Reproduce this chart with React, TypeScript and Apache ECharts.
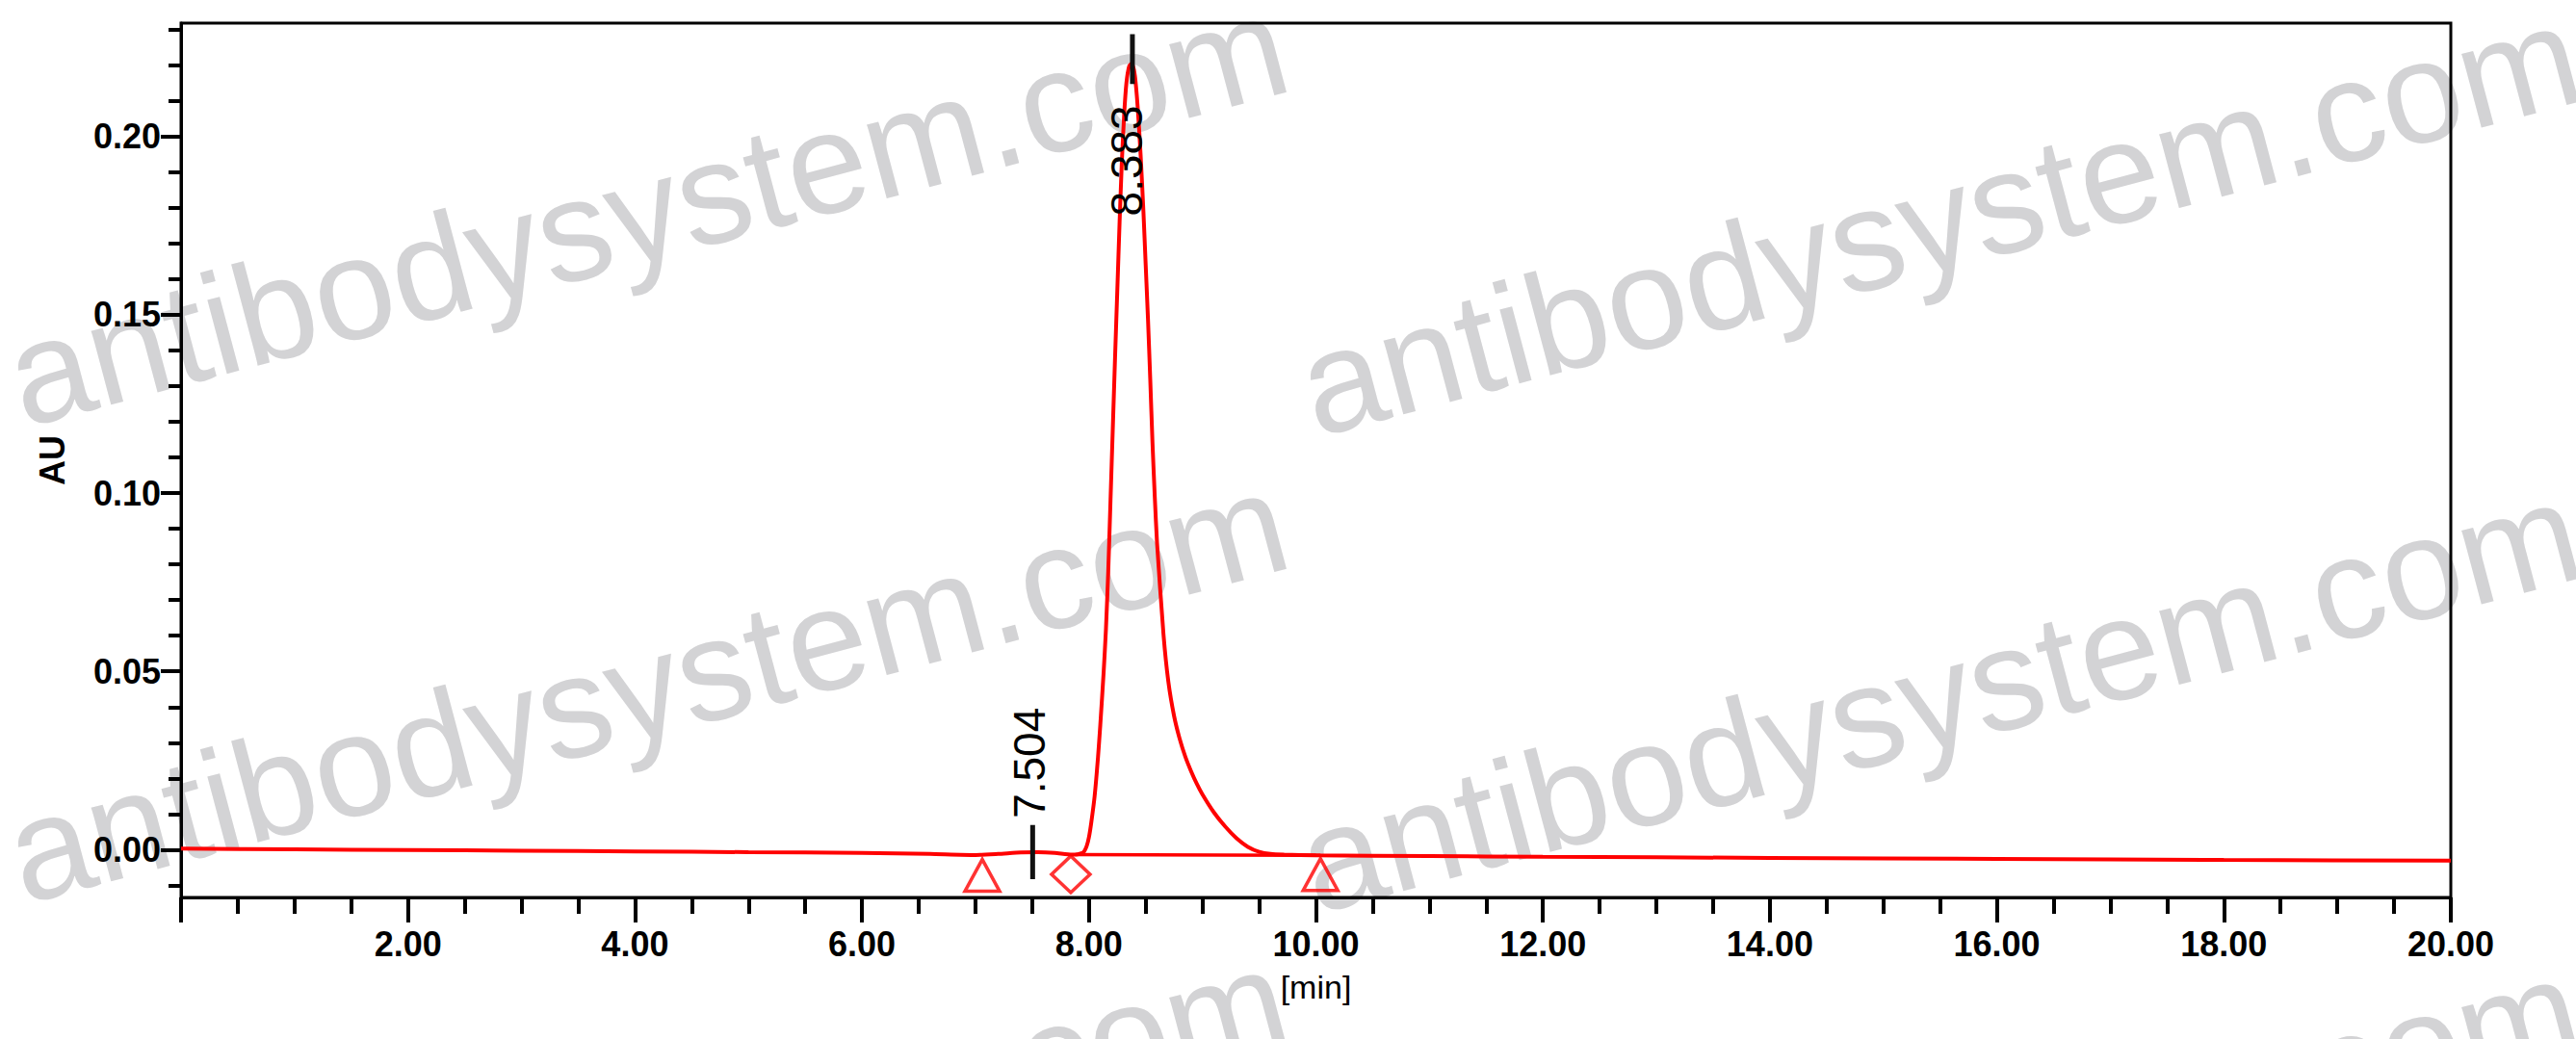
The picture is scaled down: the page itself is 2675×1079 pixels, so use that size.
import React, { useEffect, useRef } from 'react';
import * as echarts from 'echarts';

// ---- chromatogram trace (time in min, absorbance in AU) ----
const timeMin = [
  0, 1, 2, 3, 4, 5, 6, 6.6, 7.0, 7.2, 7.4, 7.55, 7.7, 7.85, 7.9, 7.95, 7.98,
  8.0, 8.02, 8.05, 8.08, 8.1, 8.13, 8.15, 8.17, 8.19, 8.21, 8.23, 8.25, 8.27,
  8.29, 8.31, 8.33, 8.355, 8.38, 8.405, 8.43, 8.455, 8.48, 8.5, 8.52, 8.54,
  8.56, 8.58, 8.6, 8.657, 8.7, 8.75, 8.8, 8.85, 8.9, 8.95, 9.0, 9.1, 9.2, 9.3,
  9.4, 9.5, 9.6, 9.72, 10, 11, 12, 14, 16, 18, 20,
];
const absorbance = [
  0.0003, 0.0001, -0.0001, -0.0003, -0.0005, -0.0007, -0.0009, -0.0012, -0.0015,
  -0.0012, -0.0008, -0.0007, -0.0009, -0.0014, -0.0013, -0.0008, 0.001,
  0.0035, 0.0075, 0.015, 0.026, 0.035, 0.05, 0.062, 0.078, 0.098, 0.118, 0.138,
  0.157, 0.176, 0.193, 0.206, 0.215, 0.2198, 0.2205, 0.217, 0.208, 0.195,
  0.179, 0.164, 0.149, 0.132, 0.114, 0.099, 0.086, 0.0603, 0.047, 0.0375,
  0.031, 0.026, 0.022, 0.0185, 0.0155, 0.0105, 0.0065, 0.0032, 0.0008,
  -0.0006, -0.0012, -0.0014, -0.0016, -0.0018, -0.002, -0.0023, -0.0026, -0.0029, -0.0031,
];

// ---- integration baseline under main peak ----
const baselineTime = [7.88, 10.04];
const baselineAU = [-0.0014, -0.0016];

// ---- integration markers ----
const triangleTime = [7.06, 10.04];
const triangleAU = [-0.0072, -0.007];
const diamondTime = [7.84];
const diamondAU = [-0.0069];

// ---- peak retention-time annotations ----
const peakRT = [7.504, 8.383];
const peakLabels = ['7.504', '8.383'];
const peakTickLow = [-0.0083, 0.2147];
const peakTickHigh = [0.0069, 0.2287];

// ---- axes ----
const xMin = 0;
const xMax = 20;
const xMajorStep = 2;
const yMin = -0.0134;
const yMax = 0.2318;
const yLabelValues = [0, 0.05, 0.1, 0.15, 0.2];
const yMinorValues = [
  -0.01, 0, 0.01, 0.02, 0.03, 0.04, 0.05, 0.06, 0.07, 0.08, 0.09, 0.1, 0.11, 0.12,
  0.13, 0.14, 0.15, 0.16, 0.17, 0.18, 0.19, 0.2, 0.21, 0.22, 0.23,
];

const watermarkText = 'antibodysystem.com';
const watermarkOrigins = [
  [24, 442], [1366, 452],
  [24, 937], [1366, 947],
  [24, 1432], [1366, 1442],
];

const FONT = '"Liberation Sans", Arial, Helvetica, sans-serif';
const RED = '#ff0000';

export default function App() {
  const ref = useRef<HTMLDivElement>(null);

  useEffect(() => {
    if (!ref.current) return;
    const chart = echarts.init(ref.current, null, { renderer: 'svg' });

    const axisLine = { show: true, onZero: false, lineStyle: { color: '#000', width: 3 } };

    const option: any = {
      animation: false,
      backgroundColor: '#ffffff',
      grid: {
        left: 188, right: 130, top: 24, bottom: 147,
        show: true, borderColor: '#000', borderWidth: 3, backgroundColor: 'transparent',
      },
      xAxis: [
        {
          type: 'value', min: xMin, max: xMax, interval: xMajorStep, position: 'bottom',
          name: '[min]', nameLocation: 'middle', nameGap: 76,
          nameTextStyle: { fontSize: 34, fontFamily: FONT, color: '#000' },
          axisLine,
          axisTick: { show: true, length: 26, lineStyle: { color: '#000', width: 4 } },
          minorTick: { show: true, splitNumber: 4, length: 17, lineStyle: { color: '#000', width: 4 } },
          axisLabel: {
            margin: 30, fontSize: 36, fontWeight: 'bold', color: '#000', fontFamily: FONT,
            formatter: (v: number) => (v === 0 ? '' : v.toFixed(2)),
          },
          splitLine: { show: false },
          minorSplitLine: { show: false },
        },
      ],
      yAxis: [
        {
          type: 'value', min: yMin, max: yMax, position: 'left',
          name: 'AU', nameLocation: 'middle', nameGap: 116, nameRotate: 90,
          nameTextStyle: { fontSize: 36, fontWeight: 'bold', fontFamily: FONT, color: '#000' },
          axisLine,
          axisTick: { show: true, length: 21, customValues: yLabelValues, lineStyle: { color: '#000', width: 4 } },
          axisLabel: {
            margin: 21, fontSize: 36, fontWeight: 'bold', color: '#000', fontFamily: FONT,
            customValues: yLabelValues,
            formatter: (v: number) => v.toFixed(2),
          },
          splitLine: { show: false },
        },
        {
          type: 'value', min: yMin, max: yMax, position: 'left',
          axisLine: { show: false, onZero: false },
          axisTick: { show: true, length: 13, customValues: yMinorValues, lineStyle: { color: '#000', width: 4 } },
          axisLabel: { show: false },
          splitLine: { show: false },
        },
      ],
      series: [
        {
          type: 'line', name: 'chromatogram', xAxisIndex: 0, yAxisIndex: 0,
          data: timeMin.map((t, i) => [t, absorbance[i]]),
          showSymbol: false, smooth: 0.2, z: 3,
          lineStyle: { color: RED, width: 4 },
        },
        {
          type: 'line', name: 'baseline', xAxisIndex: 0, yAxisIndex: 0,
          data: baselineTime.map((t, i) => [t, baselineAU[i]]),
          showSymbol: false, z: 3,
          lineStyle: { color: RED, width: 3.5 },
        },
        ...peakRT.map((rt, i) => ({
          type: 'line', name: 'rt' + i, xAxisIndex: 0, yAxisIndex: 0,
          data: [[rt, peakTickLow[i]], [rt, peakTickHigh[i]]],
          showSymbol: false, z: 4,
          lineStyle: { color: '#111', width: 5 },
        })),
        {
          type: 'scatter', name: 'start/end', xAxisIndex: 0, yAxisIndex: 0,
          data: triangleTime.map((t, i) => [t, triangleAU[i]]),
          symbol: 'triangle', symbolSize: [36, 33], z: 5,
          itemStyle: { color: 'rgba(255,255,255,0)', borderColor: RED, borderWidth: 3.5 },
        },
        {
          type: 'scatter', name: 'valley', xAxisIndex: 0, yAxisIndex: 0,
          data: diamondTime.map((t, i) => [t, diamondAU[i]]),
          symbol: 'diamond', symbolSize: [40, 38], z: 5,
          itemStyle: { color: 'rgba(255,255,255,0)', borderColor: RED, borderWidth: 3.5 },
        },
      ],
    };

    chart.setOption(option);

    // annotations & watermark placed through the chart's own scales
    const elements: any[] = [];
    const f = 150;
    const th = 0.26;
    watermarkOrigins.forEach(([bx, by]) => {
      elements.push({
        type: 'text', silent: true, z: -10,
        x: bx - 0.33 * f * Math.sin(th), y: by - 0.33 * f * Math.cos(th), rotation: th,
        style: {
          text: watermarkText, fill: '#d3d3d5', fontSize: f, fontFamily: FONT,
          align: 'left', verticalAlign: 'middle', textAlign: 'left', textVerticalAlign: 'middle',
        },
      });
    });
    peakRT.forEach((rt, i) => {
      const above = i === 0;
      const p = chart.convertToPixel({ xAxisIndex: 0, yAxisIndex: 0 }, [rt, above ? peakTickHigh[i] : peakTickLow[i]]) as number[];
      const x = p[0] + (above ? -3 : -6);
      const y = p[1] + (above ? -7 : 22);
      const align = above ? 'left' : 'right';
      elements.push({
        type: 'text', silent: true, z: 100,
        x, y, rotation: Math.PI / 2,
        style: {
          text: peakLabels[i], fill: '#000', fontSize: 46, fontFamily: FONT,
          align, verticalAlign: 'middle', textAlign: align, textVerticalAlign: 'middle',
        },
      });
    });
    chart.setOption({ graphic: { elements } });

    return () => chart.dispose();
  }, []);

  return (
    <div
      ref={ref}
      style={{ position: 'absolute', left: 0, top: 0, width: 2675, height: 1079, background: '#fff' }}
    />
  );
}
